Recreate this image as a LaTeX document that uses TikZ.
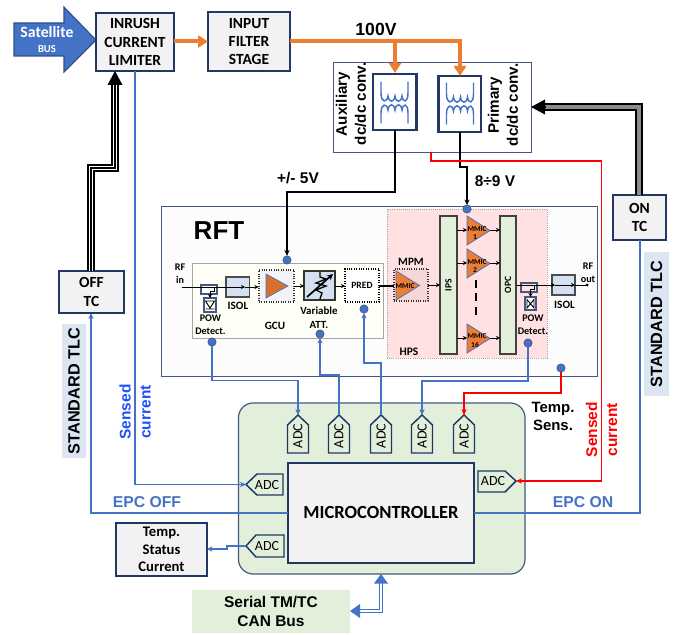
\documentclass[tikz,border=0pt]{standalone}
\usepackage{fontspec}
\setmainfont{Carlito}
\newfontfamily\arialf{Liberation Sans}
\usetikzlibrary{arrows.meta,calc}
\definecolor{navy}{HTML}{1F3864}
\definecolor{slate}{HTML}{44587F}
\definecolor{bl}{HTML}{4472C4}
\definecolor{orng}{HTML}{ED7D31}
\definecolor{grn}{HTML}{E2EFDA}
\definecolor{pinkb}{HTML}{FFE1E1}
\definecolor{tlc}{HTML}{DCE6F2}
\definecolor{boxg}{HTML}{F2F2F2}
\definecolor{isol}{HTML}{D5E0F1}
\definecolor{sblue}{HTML}{1F4FFF}
\newcommand{\fnt}[2]{\fontsize{#1}{#2}\selectfont}
% style, name, x1, y1, x2, y2, text
\newcommand{\pxbox}[7]{%
  \pgfmathsetmacro{\pxw}{(#5-#3)*0.75}\pgfmathsetmacro{\pxh}{(#6-#4)*0.75}%
  \pgfmathsetmacro{\pxcx}{(#3+#5)/2}\pgfmathsetmacro{\pxcy}{(#4+#6)/2}%
  \node[#1,minimum width=\pxw pt,minimum height=\pxh pt] (#2) at (\pxcx,\pxcy) {#7};}
% upward ADC: name, centre x
\newcommand{\adcup}[2]{%
  \draw[adcline] (#2-10.5,453) -- (#2-10.5,425) -- (#2,415) -- (#2+10.5,425) -- (#2+10.5,453) -- cycle;
  \node[adctxt,rotate=90] (#1) at (#2,436) {ADC};
  \coordinate (#1tip) at (#2,415);}
% triangle amp: x-left, x-tip, y-top, y-bot
\newcommand{\amp}[4]{\draw[ampline] (#1,#3) -- (#1,#4) -- (#2,{(#3+#4)/2}) -- cycle;}
% transformer: dx dy
\newcommand{\xfmr}[2]{%
 \begin{scope}[shift={(#1,#2)},line width=1.1pt,bl,line cap=round]
  \draw (0,0) -- (0,11) .. controls (0,21) and (6,21) .. (7,14) .. controls (8,21) and (13,21) .. (14,14) .. controls (15,21) and (20,21) .. (21,14) .. controls (22,21) and (27,21) .. (27,11) -- (27,0);
  \draw (0,41) -- (0,31) .. controls (0,21) and (6,21) .. (7,28) .. controls (8,21) and (13,21) .. (14,28) .. controls (15,21) and (20,21) .. (21,28) .. controls (22,21) and (27,21) .. (27,31) -- (27,41);
 \end{scope}}
\tikzset{
  x=0.75pt,y=-0.75pt,
  every node/.style={inner sep=0pt,outer sep=0pt,align=center},
  mainbox/.style={draw=navy,fill=boxg,line width=1.5pt,font=\bfseries\fnt{11.6}{13.8}},
  thinbox/.style={draw=slate,line width=0.7pt},
  xbox/.style={draw=navy,fill=white,line width=1.8pt},
  arr/.style={-{Stealth[length=4.5pt,width=4pt]}},
  bline/.style={bl,line width=1.4pt},
  barr/.style={bline,-{Stealth[length=4.5pt,width=4pt]}},
  rline/.style={red,line width=1.4pt,-{Stealth[length=4.5pt,width=4pt]}},
  oline/.style={orng,line width=3pt},
  oarr/.style={oline,-{Triangle[length=7.5pt,width=9pt]}},
  kline/.style={black,line width=1.2pt},
  sig/.style={black,line width=0.7pt,-{Stealth[length=3pt,width=3pt]}},
  dot/.style={circle,draw=slate,fill=bl,line width=0.5pt,minimum size=6.2pt},
  adcline/.style={draw=navy,fill=grn,line width=1.1pt},
  adctxt/.style={font=\fnt{10.5}{12}},
  ampline/.style={draw=bl,fill=orng,line width=0.6pt},
  lab/.style={font=\arialf\bfseries\fnt{12.2}{14}},
  small/.style={font=\bfseries\fnt{7.6}{9}},
  tiny/.style={font=\bfseries\fnt{5.6}{6}},
  rot/.style={rotate=90},
  bar/.style={draw=black!75,fill=grn,line width=0.9pt},
  isolbox/.style={draw=black!70,fill=isol,line width=0.9pt},
  tk1/.style={black,line width=5.6pt},
  tk2/.style={white,line width=3.2pt},
  tk3/.style={black,line width=1.2pt},
  tk2g/.style={black!45,line width=2.4pt},
}
\begin{document}
\begin{tikzpicture}
\useasboundingbox (0,0) rectangle (678,635);
% ---- top row
\draw[fill=bl,draw=bl!70!black,line width=0.8pt] (14,23) -- (64,23) -- (64,7) -- (96,40) -- (64,72) -- (64,56) -- (14,56) -- cycle;
\node[text=white,font=\bfseries\fnt{11.8}{14}] (sat) at (47,32) {Satellite};
\node[text=white,font=\bfseries\fnt{8}{10}] (satb) at (47,49) {BUS};
\pxbox{mainbox}{inrush}{96}{13}{174}{71}{INRUSH\\CURRENT\\LIMITER}
\pxbox{mainbox}{filter}{208}{12}{290}{71}{INPUT\\FILTER\\STAGE}
\draw[oarr] (inrush.east |- 0,41.5) -- (filter.west |- 0,41.5);
% ---- converter
\pxbox{thinbox,fill=white}{conv}{333}{62}{531}{152}{}
\pxbox{xbox}{aux}{373}{74}{416.5}{130}{}
\pxbox{xbox}{prim}{438.5}{76}{481}{132}{}
\xfmr{381}{82}
\xfmr{446.5}{83}
\draw[oline] (filter.east |- 0,41.5) -- (461.5,41.5);
\draw[oarr] (395,41.5) -- (395,73);
\draw[oarr] (460,41.5) -- (prim.north -| 460,0);
\node[lab,font=\arialf\bfseries\fnt{13.2}{14}] (v100) at (376,29) {100V};
\node[lab,rot,font=\arialf\bfseries\fnt{11.4}{14.2}] (auxt) at (351,104) {Auxiliary\\dc/dc conv.};
\node[lab,rot,font=\arialf\bfseries\fnt{11.4}{14.2}] (primt) at (503,105) {Primary\\dc/dc conv.};
% ---- RFT
\pxbox{thinbox,fill=white!98!gray}{rft}{161}{206}{597}{376}{}
\node[font=\arialf\bfseries\fnt{19.5}{22}] (rftt) at (219,231) {RFT};
\pxbox{draw=black!35,fill=pinkb,densely dotted,line width=0.6pt}{hps}{387}{209}{547}{358}{}
\pxbox{draw=black!35,fill=yellow!3!white,line width=0.7pt}{gcuarea}{192}{263}{383}{338}{}
\node[small,font=\bfseries\fnt{8.6}{10}] (hpst) at (409,352) {HPS};
\node[small] (rfin) at (180,274) {RF\\[0.6pt]in};
% input chain
\pxbox{isolbox}{isol1}{226}{277}{249.5}{297}{}
\pxbox{draw=slate,line width=0.8pt}{cp1}{201}{285}{217}{294}{}
\pxbox{draw=slate,fill=white,line width=0.9pt}{det1}{204}{298}{216}{312}{}
\draw[kline,line width=0.7pt] (205.5,301) -- (214.5,301) -- (210,308) -- cycle (205.5,309) -- (214.5,309);
\coordinate (rfinend) at (182,287);
\draw[sig] (rfinend) -- (245,287);
\draw[sig] (245,287) -- (258.5,287);
\draw[sig] (214,288) -- (214,291) -- (210,291) -- (det1.north);
\node[small] (powt1) at (210.5,325) {POW\\[0.8pt]Detect.};
\node[small,font=\bfseries\fnt{8.4}{10}] (isolt1) at (238,305.5) {ISOL};
\pxbox{draw=black!80,densely dotted,fill=black!3!pinkb!30!isol!40,line width=0.8pt}{gcu}{259}{270}{294}{302}{}
\draw[draw=bl,fill=orng!90!black,line width=0.5pt] (266,274) -- (266,298) -- (288,286) -- cycle;
\node[small,font=\bfseries\fnt{8.4}{10}] (gcut) at (275,326) {GCU};
\pxbox{draw=black!80,fill=isol,line width=1pt}{att}{304}{271}{335}{300}{}
\draw[black,line width=1pt] (320,272) -- (320,277) -- (326,279) -- (316,283) -- (326,286) -- (316,290) -- (322,293) -- (320,299);
\draw[black,line width=1.3pt,-{Stealth[length=4.5pt,width=4.5pt]}] (307,297) -- (333,274);
\node[small,font=\bfseries\fnt{8.2}{10}] (attt) at (319,317.5) {Variable\\[0.5pt]ATT.};
\pxbox{draw=black,densely dotted,fill=white,line width=0.8pt,font=\bfseries\fnt{7.2}{9}}{pred}{345}{269}{379}{302}{PRED}
\draw[sig] (gcu.east |- 0,286) -- (att.west |- 0,286);
\draw[sig] (att.east |- 0,286) -- (pred.west |- 0,286);
% HPS
\pxbox{draw=black!80,densely dotted,fill=pinkb!70!black!15!pink!60,line width=0.8pt}{mpm}{394}{269}{428}{301}{}
\amp{396}{419.5}{271}{300}
\node[tiny] (mpmm) at (405,286) {MMIC};
\node[small,font=\bfseries\fnt{8.4}{10}] (mpmt) at (411,262) {MPM};
\draw[kline,line width=0.8pt] (pred.east |- 0,286) -- (mpm.west |- 0,286);
\pxbox{bar,font=\bfseries\fnt{7.2}{9}}{ips}{440}{216}{457}{354}{\rotatebox{90}{IPS}}
\pxbox{bar,font=\bfseries\fnt{7.2}{9}}{opc}{500}{216}{516}{354}{\rotatebox{90}{OPC}}
\draw[sig] (mpm.east |- 0,285) -- (ips.west |- 0,285);
\amp{467}{490}{216}{245}
\amp{467}{490}{249}{278}
\amp{467}{490}{324}{353}
\node[tiny] (m1) at (477,229) {MMIC}; \node[tiny] (m1n) at (475,237.5) {1};
\node[tiny] (m2) at (477,262) {MMIC}; \node[tiny] (m2n) at (475,270.5) {2};
\node[tiny] (m3) at (477,336) {MMIC}; \node[tiny] (m3n) at (475,345) {16};
\foreach \yy in {230,263,338}{
  \draw[sig] (ips.east |- 0,\yy) -- (467,\yy);
  \draw[sig] (490,\yy) -- (opc.west |- 0,\yy);
}
\draw[black,line width=1pt,dash pattern=on 6pt off 4pt] (476,280) -- (476,318);
\pxbox{isolbox}{isol2}{552}{275}{575}{295}{}
\pxbox{draw=slate,line width=0.8pt}{cp2}{521}{283}{537}{292}{}
\pxbox{draw=slate,fill=white,line width=0.9pt}{det2}{525}{297}{536}{310}{}
\draw[kline,line width=0.7pt] (527,299.5) -- (527,308) -- (534,299.5) -- (534,308) -- cycle;
\coordinate (rfoutend) at (587,285);
\draw[sig] (opc.east |- 0,285) -- (555,285);
\draw[sig] (555,285) -- (575,285);
\draw[kline,line width=0.7pt] (575,285) -- (rfoutend);
\fill (rfoutend) circle (1.5);
\draw[sig] (534,286) -- (534,289) -- (530.5,289) -- (det2.north -| 530.5,0);
\node[small] (powt2) at (533,325) {POW\\[0.8pt]Detect.};
\node[small,font=\bfseries\fnt{8.4}{10}] (isolt2) at (564.5,305) {ISOL};
\node[small] (rfout) at (588,273) {RF\\[0.6pt]out};
% dots
\node[dot] (dgcu) at (287,260) {};
\node[dot] (dhps) at (467,209) {};
\node[dot] (dpow1) at (212,342) {};
\node[dot] (datt) at (320,334) {};
\node[dot] (dpred) at (364,309) {};
\node[dot] (dpow2) at (528,343) {};
\node[dot] (dtemp) at (561,368) {};
% power lines
\draw[kline,-{Stealth[length=4.5pt,width=4pt]}] (aux.south -| 395,0) -- (395,192) -- (287,192) -- (dgcu.north);
\draw[kline,-{Stealth[length=4pt,width=4pt]}] (prim.south -| 460,0) -- (460,167) -- (467,167) -- (dhps.north);
\node[lab,font=\arialf\bfseries\fnt{11.6}{14}] (v5) at (298,178) {+/- 5V};
\node[lab,font=\arialf\bfseries\fnt{11.6}{14}] (v9) at (495,181) {8÷9 V};
% ---- controller
\pxbox{draw=slate,fill=grn,rounded corners=11pt,line width=0.9pt}{ctrl}{238.5}{403}{525}{574}{}
\pxbox{draw=navy,fill=boxg,line width=1.5pt}{mcu}{288}{463}{474}{563}{}
\node[font=\bfseries\fnt{13.9}{15}] (mcut) at (381,512) {MICROCONTROLLER};
\adcup{adca}{298}
\adcup{adcb}{339}
\adcup{adcc}{381}
\adcup{adcd}{422}
\adcup{adce}{464}
\draw[adcline] (283,474) -- (257,474) -- (246,484.5) -- (257,495) -- (283,495) -- cycle;
\node[adctxt] (adcl) at (267,485) {ADC}; \coordinate (adcltip) at (246,484.5);
\draw[adcline] (478,471) -- (505,471) -- (516,481) -- (505,492) -- (478,492) -- cycle;
\node[adctxt] (adcr) at (493,481) {ADC}; \coordinate (adcrtip) at (516,481);
\draw[adcline] (284,535) -- (256,535) -- (246,546) -- (256,557) -- (284,557) -- cycle;
\node[adctxt] (adcs) at (267,546) {ADC}; \coordinate (adcstip) at (246,546);
% ---- TC boxes and TLC
\pxbox{mainbox}{ontc}{613}{195}{666}{240}{ON\\TC}
\pxbox{mainbox}{offtc}{59}{271}{124}{313}{OFF\\TC}
\pxbox{fill=tlc,font=\arialf\bfseries\fnt{12.2}{14}}{tlcl}{62}{324}{86}{458}{\rotatebox{90}{STANDARD TLC}}
\pxbox{fill=tlc,font=\arialf\bfseries\fnt{12.2}{14}}{tlcr}{644}{252}{669}{396}{\rotatebox{90}{STANDARD TLC}}
\pxbox{mainbox,font=\bfseries\fnt{11}{13}}{temp}{116}{523}{207}{576}{Temp.\\Status\\Current}
\pxbox{fill=grn,font=\arialf\bfseries\fnt{11.6}{14}}{serial}{192}{590}{350}{633}{Serial TM/TC\\CAN Bus}
% triple lines
\foreach \st in {tk1,tk2,tk3}{
  \draw[\st] (91,271) -- (91,168) -- (115,168) -- (115,85);
}
\draw[black,-{Triangle[length=10.5pt,width=11pt]},line width=1pt] (115,86) -- (inrush.south -| 115,0);
\foreach \st in {tk1,tk2g}{
  \draw[\st] (ontc.north -| 639,0) -- (639,107) -- (544,107);
}
\draw[black,-{Triangle[length=10.5pt,width=11pt]},line width=1pt] (545,107) -- (conv.east |- 0,107);
% sense lines
\draw[barr] (inrush.south -| 135,0) -- (135,484.5) -- (adcltip);
\draw[barr] (mcu.west |- 0,513) -- (91,513) -- (offtc.south -| 91,0);
\draw[bline] (mcu.east |- 0,513) -- (640,513) -- (ontc.south -| 640,0);
\draw[barr] (dpow1.south) -- (212,380.5) -- (298,380.5) -- (adcatip);
\draw[bline,-{Stealth[length=4pt,width=4pt]}] (adcbtip) -- (339,375) -- (320,375) -- (datt.south);
\draw[bline,-{Stealth[length=4pt,width=4pt]}] (adcctip) -- (381,363) -- (364,363) -- (dpred.south);
\draw[barr] (dpow2.south) -- (528,381) -- (422,381) -- (adcdtip);
\draw[rline] (dtemp.south) -- (561,393) -- (464,393) -- (adcetip);
\draw[rline] (conv.south -| 431,0) -- (431,161) -- (601.5,161) -- (601.5,481) -- (adcrtip);
\draw[bline,line width=1.1pt,-{Stealth[length=4pt,width=4pt]}] (adcstip) -- (227,546) -- (227,549) -- (temp.east |- 0,549);
% bus
\draw[bl,line width=2.7pt] (360,611) -- (381,611) -- (381,583);
\draw[white,line width=0.9pt] (360,611) -- (381,611) -- (381,583);
\fill[bl] (ctrl.south -| 381,0) -- (388,583.5) -- (374,583.5) -- cycle;
\fill[bl] (serial.east |- 0,611) -- (360,604) -- (360,618) -- cycle;
% labels
\node[font=\arialf\bfseries\fnt{11.6}{15},text=sblue,rot] (scl) at (135,412) {Sensed\\current};
\node[font=\arialf\bfseries\fnt{11.6}{15},text=red,rot] (scr) at (601.5,429.5) {Sensed\\current};
\node[font=\arialf\bfseries\fnt{11.8}{14},text=bl] (epcoff) at (147,502) {EPC OFF};
\node[font=\arialf\bfseries\fnt{11.8}{14},text=bl] (epcon) at (583,502) {EPC ON};
\node[lab,font=\arialf\bfseries\fnt{11.2}{13.6}] (tsens) at (553,416) {Temp.\\Sens.};
\end{tikzpicture}
\end{document}
